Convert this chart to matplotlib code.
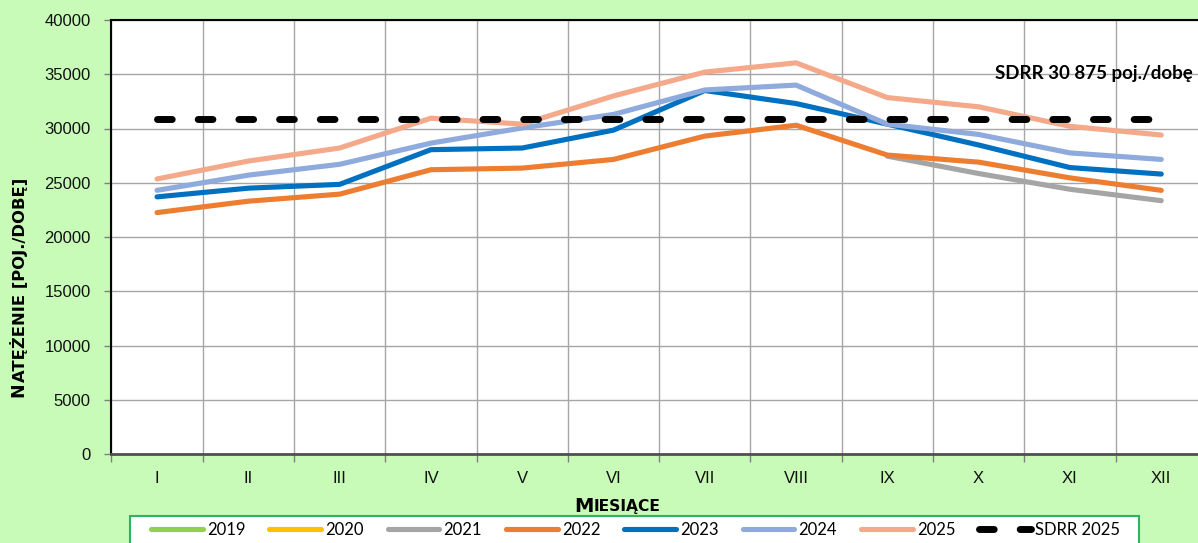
import numpy as np
import matplotlib
matplotlib.use("Agg")
import matplotlib.pyplot as plt
from matplotlib.patches import Rectangle
from matplotlib.lines import Line2D
from matplotlib.offsetbox import TextArea, HPacker, AnchoredOffsetbox

months = ["I", "II", "III", "IV", "V", "VI", "VII", "VIII", "IX", "X", "XI", "XII"]
nan = np.nan
y2019 = [nan] * 12
y2020 = [nan] * 12
y2021 = [nan, nan, nan, nan, nan, nan, nan, nan, 27450, 25850, 24400, 23350]
y2022 = [22250, 23300, 23950, 26200, 26350, 27150, 29300, 30300, 27550, 26900, 25450, 24300]
y2023 = [23700, 24500, 24850, 28050, 28200, 29850, 33500, 32300, 30400, 28480, 26400, 25800]
y2024 = [24300, 25700, 26700, 28650, 30050, 31300, 33550, 34000, 30400, 29450, 27750, 27150]
y2025 = [25350, 27000, 28200, 30950, 30400, 33000, 35200, 36050, 32850, 32000, 30200, 29400]
sdrr_value = 30875
sdrr = [sdrr_value] * 12

series = [("2019", y2019, "#92D050"),
          ("2020", y2020, "#FFC000"),
          ("2021", y2021, "#A5A5A5"),
          ("2022", y2022, "#ED7D31"),
          ("2023", y2023, "#0070C0"),
          ("2024", y2024, "#8FAADC"),
          ("2025", y2025, "#F4A98A")]

plt.rcParams['lines.scale_dashes'] = False
W, H = 1198, 543
fig = plt.figure(figsize=(W / 100, H / 100), dpi=100)
fig.patch.set_facecolor("#C8FBB8")

ax = fig.add_axes([111.4 / W, 1 - 454 / H, (1206.9 - 111.4) / W, (454 - 20) / H])
ax.set_facecolor("white")
x = np.arange(12)

handles = []
for name, vals, col in series:
    ax.plot(x, vals, color=col, lw=3.7, solid_capstyle="round",
            solid_joinstyle="round", label=name, zorder=3)
    handles.append(Line2D([], [], color=col, lw=3.7, solid_capstyle="round"))

sd, = ax.plot(x, sdrr, color="black", lw=5, dash_capstyle="round",
              label="SDRR 2025", zorder=4)
sd.set_dashes((10.6, 18.7))
hsd = Line2D([], [], color="black", lw=5, dash_capstyle="round")
hsd.set_dashes((10.6, 18.7))
handles.append(hsd)

ax.set_xlim(-0.5, 11.5)
ax.set_ylim(0, 40000)
ax.set_yticks(np.arange(0, 40001, 5000))
ax.set_xticks(np.arange(-0.5, 11.6, 1.0))
ax.set_xticklabels([])
ax.set_xticks(x, minor=True)
ax.set_xticklabels(months, minor=True)
ax.tick_params(axis="x", which="major", length=6, width=1, color="#808080", direction="out")
ax.tick_params(axis="x", which="minor", length=0, pad=12, labelsize=12)
ax.tick_params(axis="y", length=5, width=1, color="#808080", direction="out", pad=10, labelsize=12)
for lab in ax.get_xticklabels(minor=True) + ax.get_yticklabels():
    lab.set_fontfamily("Liberation Sans")
    lab.set_color("#111111")

ax.grid(True, which="major", color="#A6A6A6", lw=1)
ax.set_axisbelow(True)
for s in ["left", "top", "right"]:
    ax.spines[s].set_color("black")
    ax.spines[s].set_linewidth(1.5)
ax.spines["bottom"].set_color("#505050")
ax.spines["bottom"].set_linewidth(2)

# SDRR annotation
fig.text(995 / W, 1 - 74 / H, "SDRR 30 875 poj./dobę", fontsize=13.5, fontweight="bold",
         family="Lato", ha="left", va="center", color="black")

# x axis label (small caps look)
ta1 = TextArea("M", textprops=dict(fontsize=14, fontweight="bold", family="DejaVu Sans"))
ta2 = TextArea("IESIĄCE", textprops=dict(fontsize=11.2, fontweight="bold", family="DejaVu Sans"))
pk = HPacker(children=[ta1, ta2], align="baseline", pad=0, sep=0)
ab = AnchoredOffsetbox(loc="center", child=pk, frameon=False, pad=0, borderpad=0,
                       bbox_to_anchor=(617 / W, 1 - 506 / H), bbox_transform=fig.transFigure)
fig.add_artist(ab)

# y axis label (small caps look)
t1 = fig.text(18 / W, 1 - 397 / H, "N", rotation=90, fontsize=12.5,
              fontweight="bold", family="DejaVu Sans", ha="center", va="bottom")
fig.canvas.draw()
bb = t1.get_window_extent()
fig.text((bb.x0 + bb.x1) / 2 / W + 1.0 / W, bb.y1 / H, "ATĘŻENIE [POJ./DOBĘ]",
         rotation=90, fontsize=11.8, fontweight="bold", family="DejaVu Sans",
         ha="center", va="bottom")

# legend frame
rect = Rectangle((130 / W, 1 - 575 / H), (1139 - 130) / W, (575 - 516) / H,
                 transform=fig.transFigure, facecolor="white", edgecolor="#2DB45F",
                 lw=1.5, zorder=1)
fig.patches.append(rect)
leg = fig.legend(handles, [s[0] for s in series] + ["SDRR 2025"], loc="center left",
                 bbox_to_anchor=(151 / W, 1 - 530 / H), ncol=8, frameon=False,
                 borderpad=0, borderaxespad=0, handlelength=3.1, handletextpad=0.25,
                 columnspacing=1.44, prop=dict(family="Lato", size=12))
leg.set_zorder(5)

fig.savefig("out.png", dpi=100, facecolor=fig.get_facecolor())
